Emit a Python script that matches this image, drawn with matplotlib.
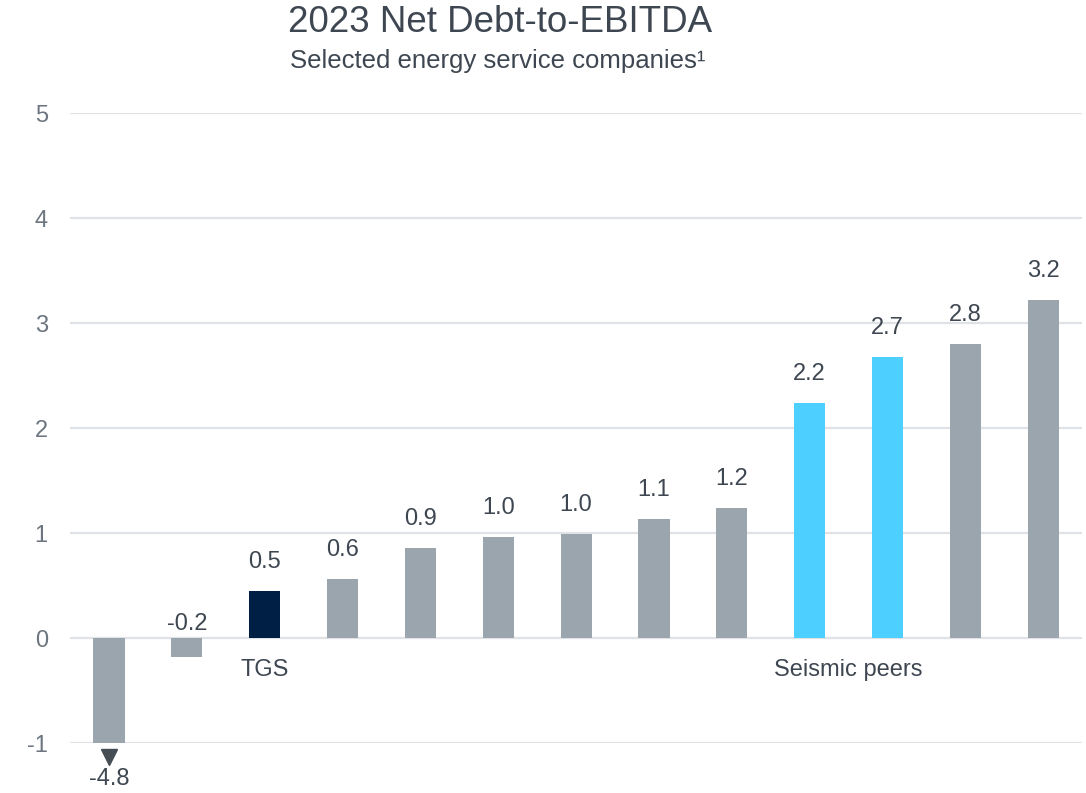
import matplotlib.pyplot as plt

plt.rcParams['font.family'] = ['Liberation Sans', 'DejaVu Sans']

# values shown on the chart
labels = ['-4.8', '-0.2', '0.5', '0.6', '0.9', '1.0', '1.0', '1.1', '1.2', '2.2', '2.7', '2.8', '3.2']
# bar heights as drawn (first bar is clipped at -1)
heights = [-1.0, -0.18, 0.45, 0.56, 0.86, 0.96, 0.99, 1.13, 1.24, 2.24, 2.68, 2.80, 3.22]
kinds = ['other', 'other', 'tgs', 'other', 'other', 'other', 'other', 'other', 'other',
         'seismic', 'seismic', 'other', 'other']
yticks = [-1, 0, 1, 2, 3, 4, 5]

colors = {'other': '#9aa5ae', 'tgs': '#001f45', 'seismic': '#4dd0ff'}
txt = '#3e4751'
tick_c = '#6d7680'

fig = plt.figure(figsize=(10.86, 7.93), dpi=100)
ax = fig.add_axes([0.0645, 0.063, 0.932, 0.7945])

x = list(range(len(heights)))
ax.bar(x, heights, width=0.4, color=[colors[k] for k in kinds], zorder=3)

ax.set_ylim(-1, 5)
ax.set_xlim(-0.5, 12.5)
ax.set_yticks(yticks)
ax.set_yticklabels([str(t) for t in yticks])
ax.yaxis.grid(True, color='#dfe3e7', linewidth=1.6, zorder=0)
ax.set_xticks([])
ax.tick_params(axis='y', length=0, pad=16, labelsize=17, labelcolor=tick_c)
for s in ax.spines.values():
    s.set_visible(False)

for i, (h, lab) in enumerate(zip(heights, labels)):
    if i == 0:
        ax.plot(i, h - 0.13, marker='v', color='#454d55', markersize=11, clip_on=False, zorder=4)
        ax.text(i, h - 0.34, lab, ha='center', va='center', fontsize=17, color=txt, clip_on=False)
    elif h < 0:
        ax.annotate(lab, (i, 0), xytext=(0, 2), textcoords='offset points',
                    ha='center', va='bottom', fontsize=17, color=txt)
    else:
        ax.annotate(lab, (i, h), xytext=(0, 13), textcoords='offset points',
                    ha='center', va='bottom', fontsize=17, color=txt)

ax.text(2, -0.3, 'TGS', ha='center', va='center', fontsize=17, color=txt)
ax.text(9.5, -0.3, 'Seismic peers', ha='center', va='center', fontsize=17, color=txt)

fig.text(0.4605, 0.972, '2023 Net Debt-to-EBITDA', ha='center', va='center', fontsize=26.5, color=txt)
fig.text(0.458, 0.923, 'Selected energy service companies\u00b9', ha='center', va='center',
         fontsize=18.5, color=txt)

fig.savefig('out.png', dpi=100)
